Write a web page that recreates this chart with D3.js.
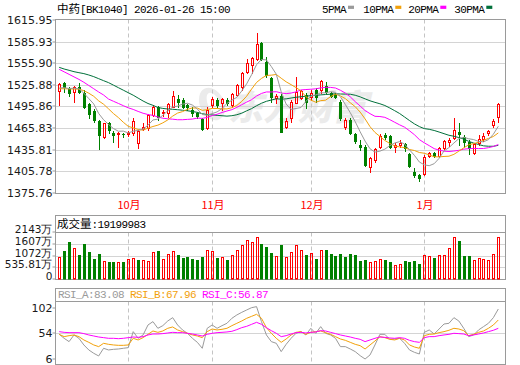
<!DOCTYPE html>
<html><head><meta charset="utf-8">
<script src="https://cdn.jsdelivr.net/npm/d3@7/dist/d3.min.js"></script>
<style>html,body{margin:0;padding:0;background:#fff;}svg{display:block;}</style>
</head><body>
<svg id="c" width="520" height="365"></svg>
<script>
// ---------------- data ----------------
const dates = [
"2025-09-11","2025-09-12","2025-09-15","2025-09-16","2025-09-17","2025-09-18","2025-09-19","2025-09-22","2025-09-23","2025-09-24","2025-09-25","2025-09-26","2025-09-29","2025-09-30",
"2025-10-09","2025-10-10","2025-10-13","2025-10-14","2025-10-15","2025-10-16","2025-10-17","2025-10-20","2025-10-21","2025-10-22","2025-10-23","2025-10-24","2025-10-27","2025-10-28","2025-10-29","2025-10-30","2025-10-31",
"2025-11-03","2025-11-04","2025-11-05","2025-11-06","2025-11-07","2025-11-10","2025-11-11","2025-11-12","2025-11-13","2025-11-14","2025-11-17","2025-11-18","2025-11-19","2025-11-20","2025-11-21","2025-11-24","2025-11-25","2025-11-26","2025-11-27","2025-11-28",
"2025-12-01","2025-12-02","2025-12-03","2025-12-04","2025-12-05","2025-12-08","2025-12-09","2025-12-10","2025-12-11","2025-12-12","2025-12-15","2025-12-16","2025-12-17","2025-12-18","2025-12-19","2025-12-22","2025-12-23","2025-12-24","2025-12-25","2025-12-26","2025-12-29","2025-12-30","2025-12-31",
"2026-01-05","2026-01-06","2026-01-07","2026-01-08","2026-01-09","2026-01-12","2026-01-13","2026-01-14","2026-01-15","2026-01-16","2026-01-19","2026-01-20","2026-01-21","2026-01-22","2026-01-23","2026-01-26"];

const open = [1517.8,1528.0,1521.1,1516.5,1523.4,1515.1,1499.3,1490.1,1475.7,1454.0,1472.5,1459.5,1457.2,1458.2,1457.7,1458.6,1444.7,1465.1,1465.6,1484.1,1495.6,1486.4,1486.4,1495.6,1505.8,1504.9,1497.5,1491.0,1486.4,1478.1,1465.6,1498.0,1504.9,1500.3,1504.9,1498.0,1511.8,1522.5,1544.2,1553.5,1561.3,1583.6,1558.1,1535.0,1507.0,1510.5,1467.9,1479.4,1501.2,1507.2,1511.8,1509.5,1518.8,1518.8,1524.3,1514.2,1512.8,1502.6,1467.9,1477.1,1457.7,1442.4,1440.1,1412.4,1421.6,1440.1,1456.3,1454.9,1439.2,1442.4,1443.8,1429.9,1405.4,1400.8,1402.2,1427.2,1431.8,1427.2,1437.8,1447.1,1451.7,1460.0,1454.0,1447.1,1430.9,1444.7,1450.3,1458.6,1470.2,1480.8];
const high = [1529.0,1530.3,1522.5,1524.3,1529.0,1518.8,1500.3,1491.9,1477.1,1473.4,1474.8,1462.3,1460.5,1459.5,1462.3,1479.4,1463.3,1473.4,1485.5,1498.0,1496.6,1491.0,1500.3,1517.9,1511.8,1507.2,1499.3,1494.7,1488.7,1479.4,1494.7,1508.6,1507.2,1507.2,1507.2,1515.1,1527.1,1544.2,1561.3,1565.1,1598.4,1585.9,1564.1,1537.3,1513.2,1513.2,1479.4,1504.9,1537.3,1518.8,1514.2,1518.8,1521.1,1532.7,1530.3,1516.5,1514.2,1504.9,1479.4,1479.4,1459.5,1449.4,1442.4,1426.2,1437.8,1457.7,1459.5,1456.3,1444.7,1449.4,1444.7,1430.9,1410.0,1401.7,1428.5,1433.2,1433.2,1440.1,1449.4,1451.7,1479.4,1472.5,1456.3,1449.4,1445.7,1456.3,1459.5,1463.3,1478.1,1501.2];
const low = [1498.0,1516.5,1510.5,1502.6,1514.2,1493.3,1479.4,1474.8,1436.4,1452.6,1458.6,1447.1,1440.1,1453.1,1454.9,1456.3,1437.8,1463.3,1463.3,1482.7,1477.1,1482.7,1481.8,1494.7,1495.6,1493.3,1491.0,1482.7,1479.4,1463.3,1464.2,1495.6,1494.7,1491.0,1498.0,1495.6,1510.5,1518.8,1542.8,1541.9,1560.4,1560.4,1537.3,1502.6,1501.2,1460.0,1465.6,1474.8,1500.3,1505.8,1493.3,1504.9,1502.6,1515.1,1514.2,1508.6,1507.2,1477.1,1464.2,1457.7,1444.7,1435.5,1413.3,1405.4,1419.3,1437.8,1450.3,1437.8,1433.2,1440.1,1434.6,1411.4,1398.5,1392.9,1400.8,1426.2,1426.2,1426.2,1436.4,1441.0,1450.3,1442.4,1440.1,1429.9,1429.9,1442.4,1448.4,1456.3,1467.0,1474.8];
const close = [1527.1,1522.5,1514.2,1522.5,1516.5,1495.6,1485.5,1477.1,1456.3,1472.5,1463.3,1456.8,1458.6,1457.2,1459.5,1475.7,1462.3,1467.9,1484.1,1495.6,1481.8,1488.7,1498.9,1510.5,1502.1,1495.6,1494.7,1486.4,1482.7,1464.2,1491.0,1505.8,1498.0,1505.8,1500.3,1513.2,1525.7,1541.9,1555.8,1563.7,1582.6,1561.3,1539.6,1509.5,1510.2,1460.9,1475.7,1502.6,1516.0,1516.9,1502.6,1514.2,1509.5,1531.3,1516.5,1510.5,1509.5,1479.4,1477.1,1459.6,1448.4,1439.2,1414.7,1423.9,1436.4,1454.9,1453.1,1439.2,1442.4,1445.7,1437.8,1413.3,1400.8,1396.2,1426.2,1431.8,1427.2,1437.8,1448.0,1449.4,1463.3,1457.7,1447.1,1437.8,1443.8,1450.3,1454.9,1462.3,1475.7,1498.9];
// volume, unit: 万
const volume = [1003,1292,1687,1414,1094,1611,1231,912,1155,821,790,790,775,790,912,958,866,866,821,1231,1292,912,1140,1277,1094,973,1003,912,866,1003,1310,1262,958,988,866,1079,1307,1535,1763,1672,1900,1596,1444,1186,1034,1550,988,1216,1535,1307,1094,1170,912,1307,1322,1140,1049,1140,1003,1140,1094,821,866,760,821,897,866,790,638,684,821,790,836,684,1094,1049,958,1094,1094,1414,1915,1748,1049,1049,866,958,912,866,1140,1920];

// moving-average values at the start of the window (need earlier history)
const ma5Lead  = [1521.5,1522.0,1520.8,1521.3];
const ma10Lead = [1520.5,1520.5,1520.3,1520.2,1520.0,1517.8,1514.3,1510.0,1503.7];
const ma20Lead = [1547.5,1544.0,1540.5,1537.0,1533.5,1529.5,1525.0,1520.5,1516.0,1511.8,1506.2,1503.1,1500.1,1497.0,1494.0,1491.8,1489.0,1486.5,1484.7];
const ma30Lead = [1550.2,1547.9,1546.1,1544.2,1542.8,1541.5,1539.6,1537.3,1534.5,1531.7,1529.0,1525.5,1522.0,1518.5,1515.0,1511.5,1507.5,1503.5,1500.0,1497.5,1494.5,1493.2,1492.4,1492.0,1491.4,1490.7,1489.9,1488.9,1487.7];

const rsiA = [52.1,44.7,38.5,50.9,44.7,32.3,23.0,16.8,11.8,26.1,23.0,24.2,24.8,26.1,27.3,57.1,44.7,50.9,69.5,75.7,63.3,68.2,76.9,83.1,69.5,60.2,54.0,44.7,37.2,26.1,63.3,69.5,63.3,68.2,72.6,81.9,88.1,93.0,97.4,101.7,103.6,75.7,50.9,38.5,35.4,19.9,33.5,44.7,54.0,57.1,50.9,63.3,54.0,66.4,54.0,50.9,44.7,29.2,29.2,24.8,19.9,12.4,6.2,13.7,32.3,52.1,52.1,42.8,43.4,44.7,35.4,23.0,18.6,15.5,55.8,60.2,52.7,62.0,71.3,72.6,83.1,76.9,63.3,47.8,50.9,60.2,66.4,72.6,83.1,99.2];
const rsiB = [52.1,47.8,49.6,50.9,47.8,41.6,37.2,32.3,29.2,35.4,33.5,32.3,31.6,31.6,32.3,44.7,41.6,45.9,52.1,58.3,55.8,58.3,63.3,65.8,60.2,57.1,54.0,50.9,49.0,45.9,57.1,62.0,60.2,61.4,63.3,68.2,72.6,76.9,81.9,85.6,89.3,81.9,64.5,54.0,44.7,37.2,43.4,50.9,55.8,57.1,52.1,55.8,57.1,58.3,55.2,52.1,47.8,43.4,40.9,37.2,33.5,31.0,24.8,32.3,39.7,47.8,45.9,42.8,41.6,44.7,41.6,32.3,28.5,26.1,49.6,52.1,52.7,55.2,57.1,59.6,63.3,62.0,58.9,49.6,52.1,55.8,58.3,63.3,69.5,78.8];
const rsiC = [57.1,55.8,55.2,55.2,55.2,53.4,50.9,49.0,47.1,45.9,44.7,44.7,44.0,44.7,45.9,47.1,46.5,47.8,50.9,52.7,52.7,53.4,54.6,55.8,55.2,55.2,54.0,52.7,50.9,49.0,52.1,54.0,55.2,55.8,56.5,57.7,60.8,64.5,67.0,70.7,74.4,70.7,64.5,58.9,54.0,47.8,49.6,52.7,55.2,55.8,54.6,55.8,56.5,58.9,58.3,55.8,53.4,50.9,49.0,47.1,44.7,42.8,38.5,41.6,44.7,47.1,46.5,45.3,44.7,45.9,44.7,40.9,38.5,37.2,45.9,47.8,47.8,49.6,50.9,52.1,54.0,53.4,52.7,49.6,50.9,52.7,54.6,57.1,59.6,63.3];

const priceTicks = [1615.95,1585.93,1555.90,1525.88,1495.86,1465.83,1435.81,1405.78,1375.76];
const volTicks = [2143.24,1607.43,1071.62,535.81,0];
const volTickLabels = ["2143万","1607万","1072万","535.81万","0"];
const rsiTicks = [102,54,6];
const maNames = ["5PMA","10PMA","20PMA","30PMA"];
const rsiNames = ["RSI_A:83.08","RSI_B:67.96","RSI_C:56.87"];
const titleName = "中药";
const titleRest = "[BK1040] 2026-01-26 15:00";
const volTitleName = "成交量";
const volTitleRest = ":19199983";

// ---------------- layout / style ----------------
const C = {red:"#ff0000", green:"#008000", ma5:"#9a9a9a", ma10:"#f2a10a", ma20:"#ff00ff", ma30:"#00703a",
  frame:"#9a9a9a", grid:"#d4d4d4", dash:"#c4c4c4", text:"#1a1a1a"};
const maColors = [C.ma5, C.ma10, C.ma20, C.ma30];
const rsiColors = [C.ma5, C.ma10, C.ma20];
const L = 55.5, R = 505.5;
const P = {top:19.5, bottom:193.5};
const V = {top:215.5, band:232.5, bottom:279.5};
const S = {top:288.5, band:301.5, bottom:364.5};
const axisFont = "'DejaVu Sans', sans-serif";
const monoFont = "'Liberation Mono', 'DejaVu Sans Mono', monospace";
const cjkFont = "'Noto Sans CJK SC', sans-serif";

const svg = d3.select("#c");
const x = d3.scalePoint().domain(dates).range([59.2, 498.3]);
const y = d3.scaleLinear().domain([1375.76, 1615.95]).range([193, 20]);
const yV = d3.scaleLinear().domain([0, 2143.24]).range([279, 232]);
const yR = d3.scaleLinear().domain([6, 102]).range([359.1, 307.5]);
const cx = d => Math.round(x(d));
const crisp = v => Math.round(v) + 0.5;

// watermark
const wm = svg.append("g").attr("fill", "#ebebeb");
wm.append("ellipse").attr("cx", 212).attr("cy", 104).attr("rx", 12).attr("ry", 17).attr("transform","rotate(-25 212 104)");
wm.append("ellipse").attr("cx", 214).attr("cy", 104).attr("rx", 6).attr("ry", 12).attr("fill","#fff").attr("transform","rotate(-25 214 104)");
wm.append("text").attr("x", 228).attr("y", 120).attr("font-family", cjkFont).attr("font-weight", 900)
  .attr("font-size", 35).attr("font-style","italic").text("东方财富");

// ---------------- panels: frames, grids ----------------
function frame(top, bottom, band) {
  const g = svg.append("g");
  g.append("rect").attr("x", L).attr("y", top).attr("width", R - L).attr("height", bottom - top)
    .attr("fill", "none").attr("stroke", C.frame).attr("stroke-width", 1);
  if (band) g.append("line").attr("x1", L).attr("x2", R).attr("y1", band).attr("y2", band)
    .attr("stroke", C.frame);
}
function hgrid(vals, scale) {
  svg.append("g").selectAll("line").data(vals).join("line")
    .attr("x1", L).attr("x2", R).attr("y1", d => crisp(scale(d))).attr("y2", d => crisp(scale(d)))
    .attr("stroke", C.grid).attr("stroke-width", 1);
}
hgrid(priceTicks.slice(1, -1), y);
hgrid(volTicks.slice(1, -1), yV);
hgrid([54], yR);

// month separators
const monthStarts = dates.filter((d, i) => i > 0 && d.slice(5, 7) !== dates[i - 1].slice(5, 7));
[[P.top, P.bottom], [V.band, V.bottom], [S.band, S.bottom]].forEach(([t, b]) => {
  svg.append("g").selectAll("line").data(monthStarts).join("line")
    .attr("x1", d => cx(d) + 0.5).attr("x2", d => cx(d) + 0.5).attr("y1", t).attr("y2", b)
    .attr("stroke", C.dash).attr("stroke-dasharray", "4,3");
});
svg.append("g").selectAll("text").data(monthStarts).join("text")
  .attr("x", d => cx(d) + 1).attr("y", 209).attr("text-anchor", "middle")
  .attr("font-family", cjkFont).attr("font-size", 11).attr("fill", C.red)
  .text(d => (+d.slice(5, 7)) + "月");

frame(P.top, P.bottom, null);
frame(V.top, V.bottom, V.band);
frame(S.top, S.bottom, S.band);

// axes
function leftAxis(scale, vals, fmt, dyShift, size) {
  const g = svg.append("g").attr("transform", `translate(${L},0)`)
    .call(d3.axisLeft(scale).tickValues(vals).tickFormat(fmt).tickSize(3).tickPadding(0));
  g.select(".domain").remove();
  g.selectAll(".tick line").attr("stroke", C.frame);
  g.selectAll(".tick").attr("transform", d => `translate(0,${crisp(scale(d)) - 0.5})`);
  g.selectAll(".tick text").attr("fill", C.text).attr("font-family", axisFont).attr("font-size", size || 11)
    .attr("dy", "0.35em").attr("y", dyShift || 0);
  return g;
}
leftAxis(y, priceTicks, d3.format(".2f"));
leftAxis(yV, volTicks, (d, i) => volTickLabels[i], -2.5, 10.5);
leftAxis(yR, rsiTicks, d3.format("d"));

// ---------------- titles & legends ----------------
function title(xp, yp, cjk, rest, fill) {
  const t = svg.append("text").attr("x", xp).attr("y", yp).attr("fill", fill || "#000");
  if (cjk) t.append("tspan").attr("font-family", cjkFont).attr("font-size", 11.5).text(cjk);
  t.append("tspan").attr("font-family", monoFont).attr("font-size", 11).attr("letter-spacing", -0.6).text(rest);
  return t;
}
title(57, 13, titleName, titleRest);
title(57, 227.5, volTitleName, volTitleRest);
rsiNames.forEach((n, i) => title(58 + i * 72, 297.5, null, n, rsiColors[i]));

const legendX = [322, 363.3, 408.3, 454.3];
maNames.forEach((n, i) => {
  title(legendX[i], 13, null, n);
  svg.append("rect").attr("x", legendX[i] + n.length * 6 + 2).attr("y", 5.7).attr("width", 6).attr("height", 3.2)
    .attr("fill", maColors[i]);
});

// ---------------- candles ----------------
const cg = svg.append("g");
dates.forEach((d, i) => {
  const px = cx(d);
  const up = close[i] >= open[i];
  const col = up ? C.red : C.green;
  const yt = Math.round(y(Math.max(open[i], close[i])));
  const yb = Math.round(y(Math.min(open[i], close[i])));
  const yh = Math.round(y(high[i])), yl = Math.round(y(low[i]));
  if (up) {
    if (yh < yt) cg.append("line").attr("x1", px + 0.5).attr("x2", px + 0.5).attr("y1", yh).attr("y2", yt).attr("stroke", col);
    if (yl > yb) cg.append("line").attr("x1", px + 0.5).attr("x2", px + 0.5).attr("y1", yb + 1).attr("y2", yl + 1).attr("stroke", col);
    cg.append("rect").attr("x", px - 0.5).attr("y", yt + 0.5).attr("width", 2).attr("height", Math.max(yb - yt, 0.5))
      .attr("fill", "none").attr("stroke", col);
  } else {
    cg.append("line").attr("x1", px + 0.5).attr("x2", px + 0.5).attr("y1", yh).attr("y2", yl + 1).attr("stroke", col);
    cg.append("rect").attr("x", px - 1).attr("y", yt).attr("width", 3).attr("height", Math.max(yb - yt + 1, 1))
      .attr("fill", col);
  }
});

// moving averages
function ma(n, lead) {
  return close.map((c, i) => i < n - 1 ? lead[i] : d3.mean(close.slice(i - n + 1, i + 1)));
}
const maSeries = [ma(5, ma5Lead), ma(10, ma10Lead), ma(20, ma20Lead), ma(30, ma30Lead)];
const priceLine = d3.line().x((v, i) => x(dates[i])).y(v => y(v));
maSeries.slice().reverse().forEach((s, k) => {
  const i = 3 - k;
  svg.append("path").attr("d", priceLine(s)).attr("fill", "none").attr("stroke", maColors[i]).attr("stroke-width", 1);
});

// ---------------- volume ----------------
const vg = svg.append("g");
dates.forEach((d, i) => {
  const px = cx(d);
  const upV = i === 0 ? close[i] >= open[i] : close[i] >= close[i - 1];
  const top = Math.round(yV(volume[i]));
  const base = 279;
  if (upV) {
    vg.append("rect").attr("x", px - 0.5).attr("y", top + 0.5).attr("width", 2).attr("height", base - top - 0.5)
      .attr("fill", "none").attr("stroke", C.red);
  } else {
    vg.append("rect").attr("x", px - 1).attr("y", top).attr("width", 3).attr("height", base - top + 0.5)
      .attr("fill", C.green);
  }
});

// ---------------- RSI ----------------
const rsiLine = d3.line().x((v, i) => x(dates[i])).y(v => yR(v));
[rsiA, rsiB, rsiC].forEach((s, i) => {
  svg.append("path").attr("d", rsiLine(s)).attr("fill", "none").attr("stroke", rsiColors[i]).attr("stroke-width", 1);
});
</script>
</body></html>
